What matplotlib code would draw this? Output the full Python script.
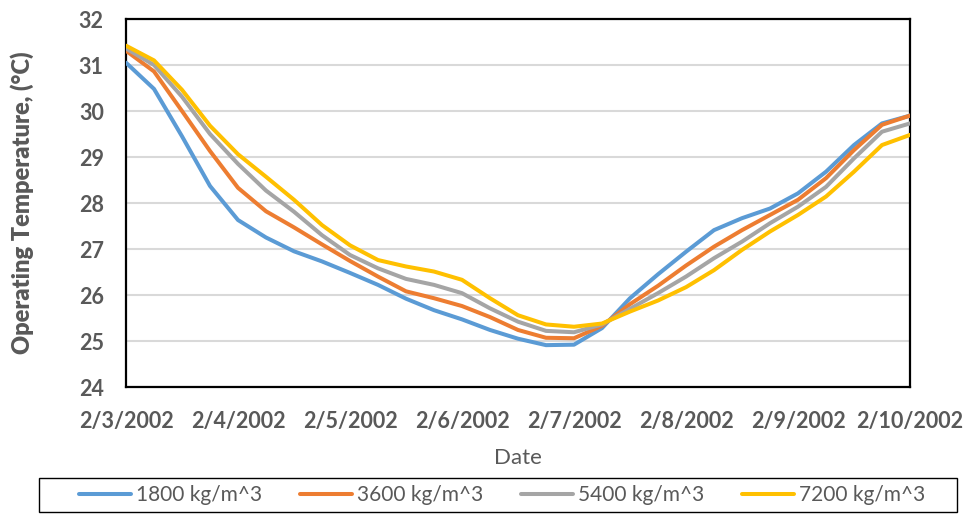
import matplotlib
matplotlib.use("Agg")
import matplotlib.pyplot as plt
from matplotlib.patches import Rectangle

plt.rcParams['font.family'] = ['Lato', 'DejaVu Sans']

# day offsets from 2/3/2002, read every quarter day
days = [0, 0.25, 0.5, 0.75, 1, 1.25, 1.5, 1.75, 2, 2.25, 2.5, 2.75, 3, 3.25,
        3.5, 3.75, 4, 4.25, 4.5, 4.75, 5, 5.25, 5.5, 5.75, 6, 6.25, 6.5, 6.75, 7]

t_1800 = [31.05, 30.48, 29.45, 28.37, 27.63, 27.25, 26.95, 26.73, 26.48, 26.22,
          25.92, 25.67, 25.47, 25.24, 25.05, 24.91, 24.92, 25.28, 25.93, 26.45,
          26.94, 27.41, 27.67, 27.88, 28.21, 28.68, 29.26, 29.73, 29.90]
t_3600 = [31.31, 30.86, 30.00, 29.13, 28.33, 27.82, 27.47, 27.10, 26.74, 26.40,
          26.08, 25.93, 25.76, 25.52, 25.24, 25.07, 25.06, 25.33, 25.80, 26.20,
          26.64, 27.05, 27.41, 27.74, 28.07, 28.54, 29.15, 29.70, 29.90]
t_5400 = [31.36, 31.00, 30.31, 29.50, 28.85, 28.27, 27.81, 27.30, 26.87, 26.58,
          26.35, 26.22, 26.04, 25.71, 25.42, 25.22, 25.19, 25.36, 25.70, 26.04,
          26.40, 26.80, 27.16, 27.56, 27.92, 28.35, 28.97, 29.55, 29.73]
t_7200 = [31.42, 31.10, 30.46, 29.68, 29.06, 28.57, 28.07, 27.52, 27.08, 26.76,
          26.62, 26.51, 26.33, 25.93, 25.56, 25.36, 25.31, 25.38, 25.64, 25.88,
          26.17, 26.54, 26.98, 27.38, 27.74, 28.14, 28.68, 29.26, 29.48]

series = [("1800 kg/m^3", t_1800, "#5B9BD5"),
          ("3600 kg/m^3", t_3600, "#ED7D31"),
          ("5400 kg/m^3", t_5400, "#A5A5A5"),
          ("7200 kg/m^3", t_7200, "#FFC000")]

date_labels = ["2/3/2002", "2/4/2002", "2/5/2002", "2/6/2002",
               "2/7/2002", "2/8/2002", "2/9/2002", "2/10/2002"]

txt = "#595959"

fig = plt.figure(figsize=(9.68, 5.23), dpi=100)
ax = fig.add_axes([126/968, 1-387/523, (910-126)/968, (387-19)/523])

for name, vals, col in series:
    ax.plot(days, vals, color=col, lw=2.9, label=name, solid_capstyle='round',
            solid_joinstyle='round', zorder=3)

ax.set_xlim(0, 7)
ax.set_ylim(24, 32)
ax.set_xticks(range(len(date_labels)))
ax.set_xticklabels(date_labels)
ax.set_yticks(range(24, 33))
ax.grid(axis='y', color='#d9d9d9', lw=1.5, zorder=0)
ax.tick_params(length=0, labelsize=15.5, labelcolor=txt)
ax.tick_params(axis='y', pad=16)
ax.tick_params(axis='x', pad=17)
for lab in ax.get_xticklabels() + ax.get_yticklabels():
    lab.set_fontweight('bold')
for sp in ax.spines.values():
    sp.set_color('black')
    sp.set_linewidth(1.6)

ax.set_xlabel("Date", fontsize=16, color=txt, labelpad=12)
ax.set_ylabel("Operating Temperature, (°C)", fontsize=17, color=txt)
ax.yaxis.label.set_fontweight('heavy')
ax.yaxis.set_label_coords(-92/784, 0.5)

# legend box across the bottom
box = Rectangle((39/968, 1-512/523), (957-39)/968, 34/523, transform=fig.transFigure,
                fill=False, edgecolor='black', lw=1.0)
fig.patches.append(box)

leg = fig.legend(loc='center', ncol=4,
                 bbox_to_anchor=((39+957)/2/968 + 4/968, 1-495/523),
                 fontsize=15, frameon=False, handlelength=2.5,
                 handletextpad=0.25, columnspacing=1.8, borderaxespad=0)
for t in leg.get_texts():
    t.set_color(txt)

fig.savefig("out.png", dpi=100)
